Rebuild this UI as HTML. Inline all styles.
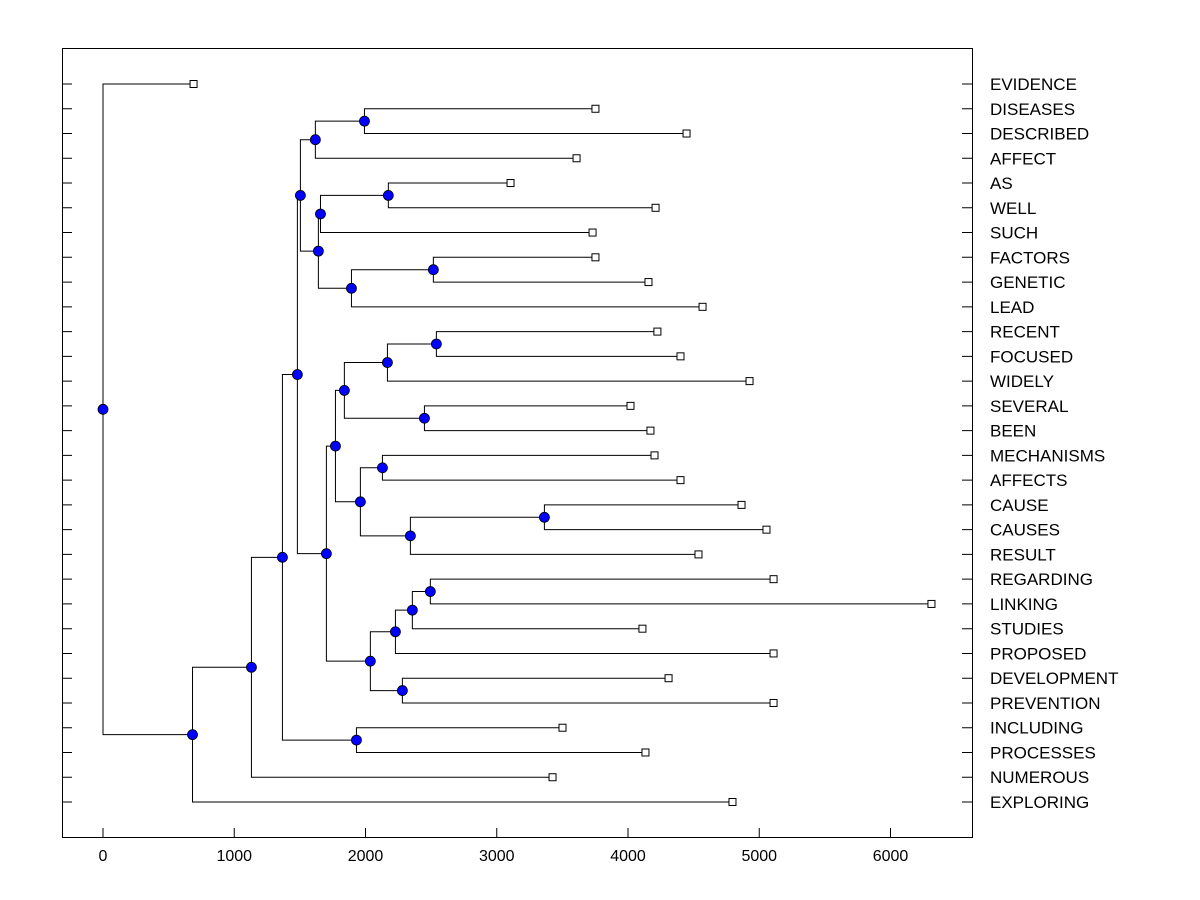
<!DOCTYPE html>
<html><head><meta charset="utf-8"><style>
body{margin:0;background:#fff}
svg{display:block;font-family:"Liberation Sans",Arial,sans-serif}
</style></head><body>
<svg id="chart" width="1200" height="900" viewBox="0 0 1200 900" xmlns="http://www.w3.org/2000/svg">
<rect x="62.5" y="48.5" width="910" height="789" fill="none" stroke="#000" stroke-width="1"/>
<g id="g"></g>
</svg>
<script>
const leaves=["EVIDENCE","DISEASES","DESCRIBED","AFFECT","AS","WELL","SUCH","FACTORS","GENETIC","LEAD","RECENT","FOCUSED","WIDELY","SEVERAL","BEEN","MECHANISMS","AFFECTS","CAUSE","CAUSES","RESULT","REGARDING","LINKING","STUDIES","PROPOSED","DEVELOPMENT","PREVENTION","INCLUDING","PROCESSES","NUMEROUS","EXPLORING"];
const leafValues=[690,3752,4446,3608,3105,4210,3730,3752,4156,4568,4224,4400,4926,4019,4171,4202,4400,4865,5055,4537,5109,6312,4110,5109,4309,5109,3501,4133,3425,4796];
// merges: [childA, childB]; leaf refs "L<i>", node refs "N<i>"
const mergeChildren=[
["L1","L2"],["N0","L3"],["L4","L5"],["N2","L6"],["L7","L8"],["N4","L9"],["N3","N5"],["N1","N6"],
["L10","L11"],["N8","L12"],["L13","L14"],["N9","N10"],["L15","L16"],["L17","L18"],["N13","L19"],["N12","N14"],["N11","N15"],
["L20","L21"],["N17","L22"],["N18","L23"],["L24","L25"],["N19","N20"],["N16","N21"],["N7","N22"],
["L26","L27"],["N23","N24"],["N25","L28"],["N26","L29"],["L0","N27"]];
const mergeHeights=[1992,1618,2174,1657,2517,1893,1641,1504,2540,2167,2449,1839,2129,3363,2342,1961,1771,2494,2357,2228,2281,2037,1702,1481,1931,1367,1131,682,0];
const xTicks=[0,1000,2000,3000,4000,5000,6000];

const NS="http://www.w3.org/2000/svg",g=document.getElementById('g');
const x=v=>103+v*0.13125, y0=84, dy=(802-84)/29, y=i=>y0+i*dy;
function mk(t,a){const e=document.createElementNS(NS,t);for(const k in a)e.setAttribute(k,a[k]);g.appendChild(e);return e;}
const pos={};
leaves.forEach((n,i)=>{pos["L"+i]={x:x(leafValues[i]),y:y(i)};});
mergeChildren.forEach((c,i)=>{const a=pos[c[0]],b=pos[c[1]],h=x(mergeHeights[i]);pos["N"+i]={x:h,y:(a.y+b.y)/2};
 const p=mk('path',{d:`M${a.x} ${a.y}H${h}V${b.y}H${b.x}`,fill:'none',stroke:'#000','stroke-width':1});
 
 });
leaves.forEach((n,i)=>{
 const p=pos["L"+i];
 const r=mk('rect',{x:p.x-3.5,y:p.y-3.5,width:7,height:7,fill:'#fff',stroke:'#000'});
 
 
 const t=mk('text',{x:990,y:p.y+6,'font-size':17});t.textContent=n;
 
 
 const l=mk('path',{d:`M62 ${p.y}H72M962 ${p.y}H973`,stroke:'#000'});
 
 
});
mergeChildren.forEach((c,i)=>{const p=pos["N"+i];
 const d=mk('circle',{cx:p.x,cy:p.y,r:5,fill:'#0000ff',stroke:'#000','stroke-width':0.8});
 
 });
xTicks.forEach(v=>{
 const l=mk('path',{d:`M${x(v)} 828V838`,stroke:'#000'});
 
 
 const t=mk('text',{x:x(v),y:861,'font-size':16,'text-anchor':'middle'});t.textContent=v;
 
 
});
</script>
</body></html>
